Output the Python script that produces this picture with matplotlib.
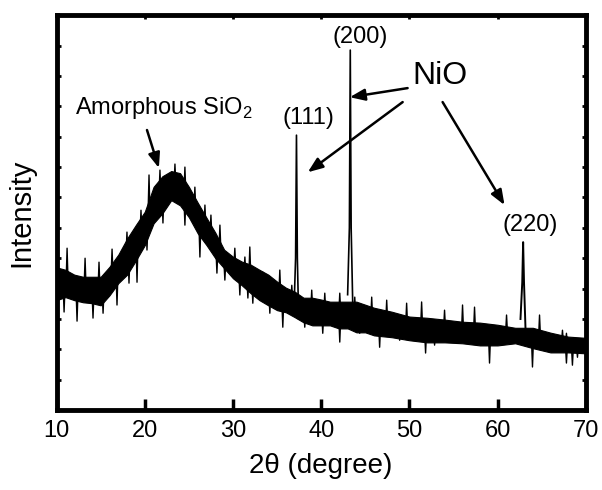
import matplotlib
matplotlib.use("Agg")
import matplotlib.pyplot as plt
import numpy as np

plt.rcParams["font.family"] = ["Liberation Sans", "DejaVu Sans"]
plt.rcParams["mathtext.fontset"] = "custom"
plt.rcParams["mathtext.rm"] = "Liberation Sans"

# noisy background (upper / lower edge)
two_theta = [10, 11, 12, 13, 14, 15, 16, 17, 18, 19, 20, 21, 22, 23, 24, 25,
             26, 27, 28, 29, 30, 31, 32, 33, 34, 35, 36, 37, 38, 39, 40, 41,
             42, 43, 44, 45, 46, 48, 50, 52, 54, 56, 58, 60, 62, 64, 66, 68, 70]
band_top = [4.70, 4.62, 4.46, 4.39, 4.39, 4.39, 4.72, 5.12, 5.65, 6.10, 6.53,
            7.35, 7.70, 7.87, 7.80, 7.35, 6.83, 6.33, 5.84, 5.28, 5.05, 4.89,
            4.79, 4.62, 4.46, 4.23, 4.03, 3.90, 3.70, 3.70, 3.64, 3.57, 3.57,
            3.57, 3.57, 3.47, 3.37, 3.24, 3.08, 3.04, 2.98, 2.91, 2.88, 2.81,
            2.71, 2.71, 2.55, 2.42, 2.38]
band_bottom = [3.62, 3.72, 3.62, 3.55, 3.52, 3.45, 3.78, 4.18, 4.46, 4.93,
               5.43, 6.15, 6.48, 6.91, 6.74, 6.35, 5.82, 5.43, 5.00, 4.67,
               4.34, 4.11, 3.85, 3.62, 3.45, 3.29, 3.22, 3.06, 2.89, 2.79,
               2.79, 2.79, 2.69, 2.69, 2.56, 2.56, 2.46, 2.40, 2.30, 2.23,
               2.23, 2.20, 2.13, 2.13, 2.20, 2.04, 1.90, 1.90, 1.87]

# noise spike tips sticking out of the band, above and below
spikes_up_x = [11.19, 13.23, 14.81, 16.29, 17.98, 19.57, 20.48, 21.72, 23.42,
               24.55, 25.68, 26.82, 27.50, 28.52, 30.21, 31.35, 31.91, 33.39,
               35.31, 36.67, 38.93, 40.41, 42.11, 43.81, 45.73, 47.43, 49.69,
               51.39, 53.99, 56.03, 57.39, 61.02, 64.76, 67.36, 67.81]
spikes_up_y = [5.33, 5.00, 4.87, 5.30, 5.86, 6.58, 7.74, 7.90, 8.10, 8.00,
               7.34, 6.75, 6.42, 6.09, 5.33, 5.04, 5.37, 4.54, 4.61, 4.11,
               3.95, 3.85, 3.85, 3.72, 3.72, 3.62, 3.52, 3.56, 3.29, 3.46,
               3.39, 3.13, 3.13, 2.63, 2.53]
spikes_dn_x = [10.85, 12.32, 14.13, 15.27, 16.85, 18.21, 19.12, 20.25, 22.06,
               24.55, 26.25, 28.18, 29.08, 30.78, 31.69, 32.25, 34.18, 35.65,
               38.14, 40.18, 42.11, 44.37, 46.63, 48.90, 51.84, 52.86, 59.09,
               63.96, 67.81, 68.49, 69.06]
spikes_dn_y = [3.23, 2.93, 3.03, 3.19, 3.46, 4.18, 4.21, 5.27, 6.16, 6.09,
               5.04, 4.51, 4.28, 3.79, 3.69, 3.52, 3.19, 2.73, 2.73, 2.53,
               2.24, 2.53, 2.07, 2.30, 1.88, 2.14, 1.55, 1.42, 1.55, 1.48, 1.74]

# NiO reflections
peak_111_x = [36.95, 37.10, 37.20, 37.30, 37.45]
peak_111_y = [3.60, 5.00, 9.05, 5.00, 3.00]
peak_200_x = [43.00, 43.20, 43.30, 43.40, 43.60]
peak_200_y = [3.80, 6.00, 11.85, 6.00, 3.20]
peak_220_x = [62.60, 62.80, 62.90, 63.00, 63.20]
peak_220_y = [3.00, 4.20, 5.53, 4.20, 2.40]

fig = plt.figure(figsize=(6.02, 4.90), dpi=100)
ax = fig.add_axes([0.094, 0.163, 0.879, 0.806])

ax.fill_between(two_theta, band_bottom, band_top, color="black", lw=0.8)

# each spike drawn as a thin sharp tooth on the band
mid = (np.array(band_top) + np.array(band_bottom)) / 2
for xs, ys in ((spikes_up_x, spikes_up_y), (spikes_dn_x, spikes_dn_y)):
    for x, y in zip(xs, ys):
        base = np.interp(x, two_theta, mid)
        ax.plot([x - 0.12, x, x + 0.12], [base, y, base], color="black",
                lw=1.0)

ax.plot(peak_111_x, peak_111_y, color="black", lw=1.2)
ax.plot(peak_200_x, peak_200_y, color="black", lw=1.2)
ax.plot(peak_220_x, peak_220_y, color="black", lw=1.4)

ax.set_xlim(10, 70)
ax.set_ylim(0, 13)
ax.set_xticks(np.arange(10, 71, 10))
ax.set_yticks(np.arange(0, 14, 1))
ax.set_yticklabels([])
ax.tick_params(axis="x", direction="in", length=8, width=2.5, labelsize=17,
               pad=7)
ax.tick_params(axis="y", direction="in", length=3, width=2, left=True,
               right=True)
top = ax.secondary_xaxis("top")
top.set_xticks(np.arange(10, 71, 10))
top.tick_params(direction="in", length=3, width=2, labeltop=False)
top.spines["top"].set_visible(False)
for s in ax.spines.values():
    s.set_linewidth(3.5)

ax.set_xlabel("2θ (degree)", fontsize=20, labelpad=8)
ax.set_ylabel("Intensity", fontsize=21, labelpad=12)

arrow = dict(arrowstyle="-|>,head_length=0.9,head_width=0.35", color="black",
             lw=1.8, shrinkA=0, shrinkB=0)
ax.text(12.1, 9.94, "Amorphous SiO$_2$", fontsize=17, ha="left", va="center")
ax.annotate("", xy=(21.6, 7.97), xytext=(20.25, 9.22), arrowprops=arrow)
ax.text(38.6, 9.61, "(111)", fontsize=17, ha="center", va="center")
ax.text(44.37, 12.28, "(200)", fontsize=17, ha="center", va="center")
ax.text(63.74, 6.09, "(220)", fontsize=17, ha="center", va="center")
ax.text(53.5, 10.99, "NiO", fontsize=23, ha="center", va="center")
ax.annotate("", xy=(43.24, 10.30), xytext=(49.8, 10.6), arrowprops=arrow)
ax.annotate("", xy=(38.48, 7.83), xytext=(49.24, 10.14), arrowprops=arrow)
ax.annotate("", xy=(60.79, 6.75), xytext=(53.77, 10.14), arrowprops=arrow)

fig.savefig("out.png", dpi=100)
